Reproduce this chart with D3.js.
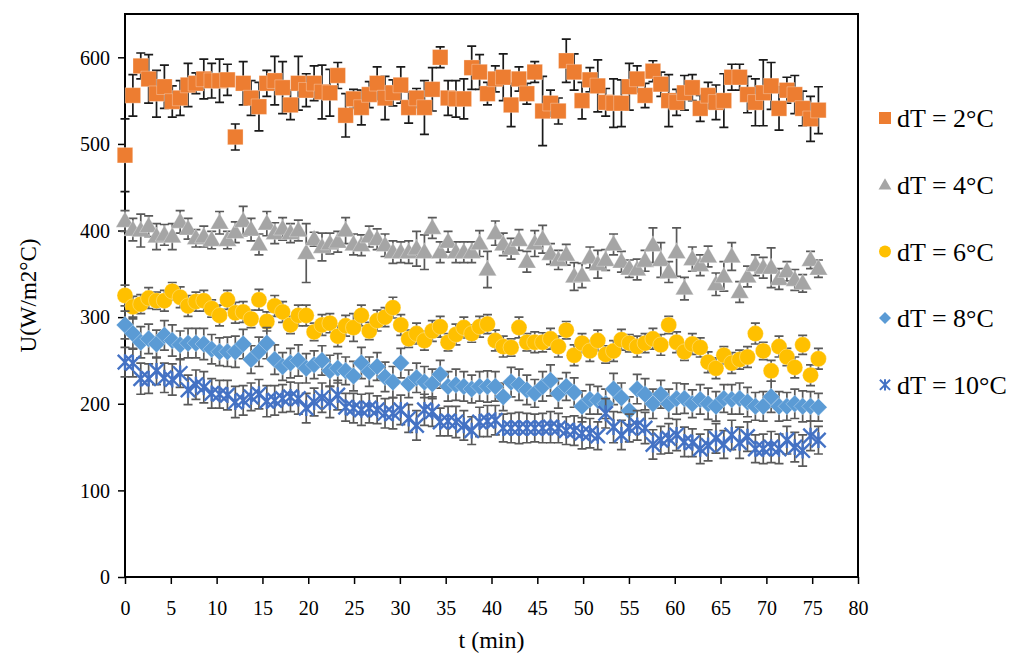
<!DOCTYPE html>
<html>
<head>
<meta charset="utf-8">
<script src="https://cdn.jsdelivr.net/npm/d3@7"></script>
<style>
  body { margin: 0; background: #fff; }
  text { font-family: "Liberation Serif", "Times New Roman", serif; fill: #000; }
</style>
</head>
<body>
<script>
// sampling times (min)
const times = [
  0, 0.86, 1.72, 2.58, 3.44, 4.30, 5.16, 6.02, 6.88, 7.74,
  8.60, 9.46, 10.32, 11.18, 12.04, 12.90, 13.76, 14.62, 15.48, 16.34,
  17.20, 18.06, 18.92, 19.78, 20.64, 21.50, 22.36, 23.22, 24.08, 24.94,
  25.80, 26.66, 27.52, 28.38, 29.24, 30.10, 30.96, 31.82, 32.68, 33.54,
  34.40, 35.26, 36.12, 36.98, 37.84, 38.70, 39.56, 40.42, 41.28, 42.14,
  43.00, 43.86, 44.72, 45.58, 46.44, 47.30, 48.16, 49.02, 49.88, 50.74,
  51.60, 52.46, 53.32, 54.18, 55.04, 55.90, 56.76, 57.62, 58.48, 59.34,
  60.20, 61.06, 61.92, 62.78, 63.64, 64.50, 65.36, 66.22, 67.08, 67.94,
  68.80, 69.66, 70.52, 71.38, 72.24, 73.10, 73.96, 74.82, 75.68
];

// U values (W/m2°C) and error bar half-lengths
const u2 = [
  487, 556, 590, 575, 558, 566, 549, 553, 568, 570,
  575, 573, 573, 574, 508, 570, 553, 543, 570, 573,
  565, 545, 570, 562, 570, 560, 559, 579, 533, 552,
  542, 557, 570, 553, 559, 568, 542, 553, 542, 563,
  600, 553, 552, 552, 588, 583, 558, 575, 577, 545,
  575, 558, 583, 538, 547, 538, 596, 583, 550, 574,
  567, 548, 547, 547, 566, 575, 556, 584, 569, 550,
  548, 559, 565, 541, 556, 548, 550, 577, 577, 557,
  548, 559, 567, 541, 562, 557, 541, 529, 539
];
const e2 = [
  42, 24, 15, 28, 27, 25, 18, 20, 25, 12,
  23, 20, 25, 18, 15, 25, 20, 28, 15, 28,
  30, 17, 31, 19, 20, 31, 27, 15, 25, 11,
  20, 15, 19, 25, 15, 21, 18, 11, 31, 25,
  12, 20, 21, 23, 25, 20, 13, 15, 27, 25,
  14, 12, 12, 40, 15, 15, 25, 21, 21, 14,
  30, 16, 28, 27, 27, 15, 14, 12, 14, 30,
  15, 20, 15, 15, 15, 20, 31, 15, 15, 21,
  27, 38, 27, 25, 15, 22, 20, 26, 27
];
const u4 = [
  411, 401, 400, 405, 393, 395, 393, 410, 402, 391,
  393, 389, 409, 389, 398, 411, 401, 384, 408, 397,
  402, 397, 400, 374, 390, 381, 385, 387, 400, 384,
  383, 393, 390, 383, 375, 375, 375, 379, 375, 403,
  375, 387, 375, 375, 375, 385, 355, 397, 384, 379,
  389, 364, 385, 390, 373, 366, 372, 347, 348, 369,
  361, 366, 384, 364, 356, 355, 365, 383, 366, 352,
  375, 333, 367, 360, 370, 338, 347, 370, 329, 347,
  360, 357, 357, 344, 353, 343, 339, 366, 356
];
const e4 = [
  12, 13, 19, 12, 15, 12, 15, 13, 12, 10,
  12, 10, 13, 10, 12, 17, 13, 12, 14, 12,
  13, 11, 12, 34, 8, 16, 12, 12, 15, 12,
  12, 12, 12, 13, 13, 12, 13, 20, 20, 12,
  12, 12, 12, 12, 12, 15, 21, 14, 13, 12,
  12, 12, 15, 16, 12, 11, 12, 16, 14, 12,
  16, 12, 12, 12, 10, 12, 12, 20, 20, 12,
  28, 13, 14, 12, 12, 13, 17, 16, 12, 12,
  12, 12, 23, 12, 11, 12, 10, 10, 10
];
const u6 = [
  325, 312, 315, 322, 319, 319, 330, 323, 313, 318,
  319, 310, 302, 320, 305, 306, 298, 320, 295, 313,
  306, 291, 302, 302, 283, 291, 293, 278, 290, 288,
  302, 284, 296, 300, 311, 291, 275, 281, 273, 284,
  289, 271, 280, 288, 281, 289, 292, 273, 266, 265,
  288, 271, 271, 271, 275, 266, 285, 256, 270, 261,
  273, 257, 261, 274, 270, 266, 270, 275, 268, 291,
  271, 260, 269, 265, 248, 241, 256, 247, 251, 254,
  281, 261, 238, 266, 254, 242, 268, 233, 252
];
const e6 = [
  12, 12, 11, 12, 10, 12, 10, 12, 12, 11,
  12, 10, 12, 11, 12, 12, 10, 12, 11, 12,
  12, 10, 12, 12, 10, 12, 11, 12, 12, 16,
  12, 10, 12, 11, 12, 12, 10, 12, 11, 12,
  12, 10, 12, 12, 10, 12, 11, 12, 12, 10,
  12, 10, 12, 11, 12, 12, 10, 12, 11, 12,
  12, 10, 12, 12, 10, 12, 11, 12, 12, 10,
  12, 10, 12, 11, 12, 12, 10, 12, 11, 12,
  12, 10, 12, 12, 10, 12, 11, 12, 12
];
const u8 = [
  291, 281, 271, 275, 269, 279, 273, 268, 270, 270,
  269, 263, 260, 260, 260, 269, 251, 260, 270, 251,
  243, 247, 250, 241, 245, 250, 238, 241, 238, 232,
  247, 237, 243, 231, 225, 247, 223, 230, 225, 223,
  234, 220, 222, 220, 217, 220, 220, 220, 208, 225,
  222, 216, 212, 220, 227, 212, 220, 213, 197, 205,
  204, 200, 217, 207, 192, 217, 211, 200, 211, 200,
  206, 206, 200, 205, 200, 197, 206, 205, 206, 202,
  197, 197, 208, 197, 197, 200, 197, 197, 196
];
const e8 = [
  16, 17, 18, 17, 16, 17, 18, 16, 17, 17,
  18, 17, 16, 17, 18, 17, 16, 17, 18, 17,
  16, 17, 18, 17, 16, 17, 18, 17, 16, 17,
  18, 17, 16, 17, 18, 17, 16, 17, 18, 17,
  16, 17, 18, 17, 16, 17, 18, 17, 16, 17,
  18, 17, 16, 17, 18, 17, 16, 17, 18, 17,
  16, 17, 18, 17, 16, 17, 18, 17, 16, 17,
  18, 17, 16, 17, 18, 17, 16, 17, 18, 17,
  16, 17, 18, 17, 16, 17, 18, 17, 16
];
const u10 = [
  248, 247, 229, 229, 238, 230, 228, 235, 216, 222,
  219, 212, 211, 210, 202, 204, 208, 211, 203, 204,
  206, 208, 206, 195, 202, 207, 202, 210, 196, 195,
  193, 195, 193, 189, 189, 193, 183, 175, 193, 191,
  179, 180, 179, 175, 169, 179, 180, 181, 172, 172,
  172, 172, 172, 172, 173, 172, 169, 169, 166, 166,
  163, 189, 173, 164, 172, 175, 172, 153, 158, 160,
  164, 156, 155, 148, 152, 160, 153, 164, 155, 162,
  148, 148, 150, 148, 158, 150, 146, 163, 158
];
const e10 = [
  17, 16, 18, 17, 16, 17, 18, 16, 17, 17,
  18, 17, 16, 17, 18, 17, 16, 17, 18, 17,
  16, 17, 18, 17, 16, 17, 18, 17, 16, 17,
  18, 17, 16, 17, 18, 17, 16, 17, 18, 17,
  16, 17, 18, 17, 16, 17, 18, 17, 16, 17,
  18, 17, 16, 17, 18, 17, 16, 17, 18, 17,
  16, 17, 18, 17, 16, 17, 18, 17, 16, 17,
  18, 17, 16, 17, 18, 17, 16, 17, 18, 17,
  16, 17, 18, 17, 16, 17, 18, 17, 16
];

const seriesNames = ["dT = 2°C", "dT = 4°C", "dT = 6°C", "dT = 8°C", "dT = 10°C"];
const xTicks = d3.range(0, 81, 5);
const yTicks = d3.range(0, 601, 100);

window.onload = function () {
    const width = 1012, height = 660;
    const plot = {left: 125, right: 858, top: 14, bottom: 577};
    const serif = "'Liberation Serif', 'Times New Roman', serif";

    const x = d3.scaleLinear().domain([0, 80]).range([plot.left, plot.right]);
    const y = d3.scaleLinear().domain([0, 650]).range([plot.bottom, plot.top]);

    const svg = d3.select("body").append("svg")
        .attr("width", width)
        .attr("height", height);

    svg.append("rect")
        .attr("width", width)
        .attr("height", height)
        .attr("fill", "white");

    // marker shapes
    const sq = d3.symbol().type(d3.symbolSquare);
    const tri = d3.symbol().type(d3.symbolTriangle);
    const circ = d3.symbol().type(d3.symbolCircle);

    function starPath(s) {
        const h = s / 2;
        return `M${-h},${-h}L${h},${h}M${-h},${h}L${h},${-h}M0,${-h * 1.1}L0,${h * 1.1}`;
    }

    const series = [
        {name: seriesNames[0], values: u2, errs: e2, color: "#ED7D31", errColor: "#1a1a1a",
            draw: (g, s) => g.append("path").attr("d", sq.size(s * s)())},
        {name: seriesNames[1], values: u4, errs: e4, color: "#A5A5A5", errColor: "#595959",
            draw: (g, s) => g.append("path").attr("d", tri.size(s * s * 0.5)()).attr("transform", "translate(0,1)")},
        {name: seriesNames[2], values: u6, errs: e6, color: "#FFC000", errColor: "#595959",
            draw: (g, s) => g.append("path").attr("d", circ.size(Math.PI * s * s / 4)())},
        {name: seriesNames[3], values: u8, errs: e8, color: "#5B9BD5", errColor: "#595959",
            draw: (g, s) => g.append("path").attr("d", sq.size(s * s * 0.5)()).attr("transform", "rotate(45)")},
        {name: seriesNames[4], values: u10, errs: e10, color: "#4472C4", errColor: "#595959", star: true,
            draw: (g, s) => g.append("path").attr("d", starPath(s * 0.85))}
    ];
    const markSize = [15.5, 17, 16, 17.5, 17];

    // axes
    const xAxis = d3.axisBottom(x).tickValues(xTicks).tickSize(7).tickSizeOuter(0);
    const yAxis = d3.axisLeft(y).tickValues(yTicks).tickSize(7).tickSizeOuter(0);

    const gx = svg.append("g")
        .attr("transform", `translate(0,${plot.bottom})`)
        .call(xAxis);
    gx.select(".domain").remove();
    gx.selectAll(".tick line").attr("stroke", "#000").attr("stroke-width", 1.5);
    gx.selectAll(".tick text")
        .attr("dy", "0")
        .attr("y", 38)
        .style("font-family", serif)
        .style("font-size", "20px");

    const gy = svg.append("g")
        .attr("transform", `translate(${plot.left},0)`)
        .call(yAxis);
    gy.select(".domain").remove();
    gy.selectAll(".tick line").attr("stroke", "#000").attr("stroke-width", 1.5);
    gy.selectAll(".tick text")
        .attr("x", -15)
        .attr("dy", "0.34em")
        .style("font-family", serif)
        .style("font-size", "20px");

    // plot frame
    svg.append("rect")
        .attr("x", plot.left)
        .attr("y", plot.top)
        .attr("width", plot.right - plot.left)
        .attr("height", plot.bottom - plot.top)
        .attr("fill", "none")
        .attr("stroke", "#000")
        .attr("stroke-width", 2);

    // series: error bars first, then markers
    const capW = 4.5;
    series.forEach(function (s, k) {
        const pts = times.map((t, i) => ({t: t, v: s.values[i], e: s.errs[i]}));
        const gErr = svg.append("g")
            .attr("stroke", s.errColor)
            .attr("stroke-width", 1.7)
            .attr("fill", "none");
        pts.forEach(function (d) {
            const cx = x(d.t), y1 = y(d.v + d.e), y2 = y(d.v - d.e);
            gErr.append("path")
                .attr("d", `M${cx},${y1}L${cx},${y2}M${cx - capW},${y1}L${cx + capW},${y1}M${cx - capW},${y2}L${cx + capW},${y2}`);
        });

        const gMark = svg.append("g");
        pts.forEach(function (d) {
            const g = gMark.append("g").attr("transform", `translate(${x(d.t)},${y(d.v)})`);
            const p = s.draw(g, markSize[k]);
            if (s.star) {
                p.attr("fill", "none").attr("stroke", s.color).attr("stroke-width", 2.4);
            } else {
                p.attr("fill", s.color).attr("stroke", "#fff").attr("stroke-opacity", 0.5).attr("stroke-width", 0.6);
            }
        });
    });

    // axis titles
    svg.append("text")
        .attr("x", (plot.left + plot.right) / 2)
        .attr("y", 648)
        .attr("text-anchor", "middle")
        .style("font-family", serif)
        .style("font-size", "24px")
        .text("t (min)");

    svg.append("text")
        .attr("transform", `translate(36,${(plot.top + plot.bottom) / 2}) rotate(-90)`)
        .attr("text-anchor", "middle")
        .style("font-family", serif)
        .style("font-size", "23px")
        .text("U(W/m2°C)");

    // legend
    const legend = svg.append("g");
    series.forEach(function (s, i) {
        const ly = 118 + i * 66.7;
        const g = legend.append("g").attr("transform", `translate(885,${ly})`);
        const p = s.draw(g, 12);
        if (s.star) {
            p.attr("fill", "none").attr("stroke", s.color).attr("stroke-width", 2);
        } else {
            p.attr("fill", s.color);
        }
        legend.append("text")
            .attr("x", 897)
            .attr("y", ly)
            .attr("dy", "0.35em")
            .style("font-family", serif)
            .style("font-size", "26px")
            .text(s.name);
    });
}
</script>
</body>
</html>
